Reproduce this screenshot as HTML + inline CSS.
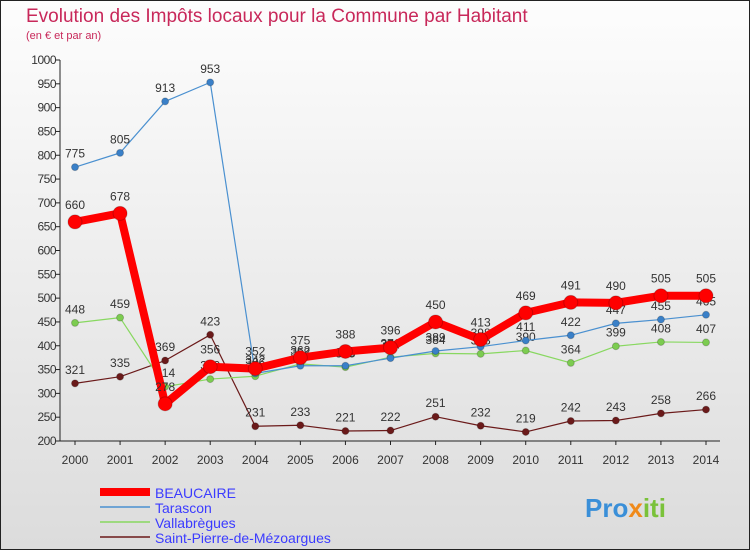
<!DOCTYPE html>
<html><head><meta charset="utf-8"><style>
body{margin:0;width:750px;height:550px;overflow:hidden;font-family:"Liberation Sans",sans-serif}
svg{display:block}
</style></head><body>
<svg width="750" height="550" xmlns="http://www.w3.org/2000/svg">
<defs><linearGradient id="bg" x1="0" y1="0" x2="0" y2="1"><stop offset="0" stop-color="#fdfdfd"/><stop offset="1" stop-color="#dcdcdc"/></linearGradient></defs>
<rect x="0.5" y="0.5" width="749" height="549" fill="url(#bg)" stroke="#222"/>
<text x="26" y="22" font-size="19" fill="#c8285a">Evolution des Impôts locaux pour la Commune par Habitant</text>
<text x="26" y="39" font-size="11" fill="#c8285a">(en € et par an)</text>
<g id="axes"></g><g id="series"></g>
<g font-size="14">
<line x1="100" y1="492" x2="150" y2="492" stroke="#f00" stroke-width="8"/>
<text x="155" y="498" fill="#3b3bff">BEAUCAIRE</text>
<line x1="100" y1="507" x2="150" y2="507" stroke="#4a90d0" stroke-width="1.5"/>
<text x="155" y="513" fill="#3b3bff">Tarascon</text>
<line x1="100" y1="522" x2="150" y2="522" stroke="#88d860" stroke-width="1.5"/>
<text x="155" y="528" fill="#3b3bff">Vallabrègues</text>
<line x1="100" y1="537" x2="150" y2="537" stroke="#6b1a1a" stroke-width="1.5"/>
<text x="155" y="543" fill="#3b3bff">Saint-Pierre-de-Mézoargues</text>
</g>
<text x="585" y="517" font-size="26" font-weight="bold" fill="#3a8fd8">Pro<tspan fill="#f08a1a">x</tspan><tspan fill="#7ac23a">iti</tspan></text>
</svg>
<script>
const years=[2000,2001,2002,2003,2004,2005,2006,2007,2008,2009,2010,2011,2012,2013,2014];
const yTicks=[200,250,300,350,400,450,500,550,600,650,700,750,800,850,900,950,1000];
const beaucaire=[660,678,278,356,352,375,388,396,450,413,469,491,490,505,505];
const tarascon=[775,805,913,953,342,358,358,374,389,398,411,422,447,455,465];
const vallabregues=[448,459,314,330,336,362,355,376,384,383,390,364,399,408,407];
const saintPierre=[321,335,369,423,231,233,221,222,251,232,219,242,243,258,266];
const NS="http://www.w3.org/2000/svg";
const xS=i=>75+i*(706-75)/14;
const yS=v=>441-(v-200)*(441-60)/800;
function mk(t,a,p){const e=document.createElementNS(NS,t);for(const k in a)e.setAttribute(k,a[k]);p.appendChild(e);return e;}
const ax=document.getElementById('axes');
const yl=mk('line',{x1:60,y1:60,x2:60,y2:441,stroke:'#222'},ax);


const xl=mk('line',{x1:60,y1:441,x2:720,y2:441,stroke:'#222'},ax);


yTicks.forEach(v=>{
 mk('line',{x1:56,y1:yS(v),x2:60,y2:yS(v),stroke:'#222'},ax);
 const t=mk('text',{x:56,y:yS(v)+4,'font-size':12,'text-anchor':'end',fill:'#333','letter-spacing':'-0.5'},ax);
 t.textContent=v;
 
 
});
years.forEach((y,i)=>{
 mk('line',{x1:xS(i),y1:441,x2:xS(i),y2:445,stroke:'#222'},ax);
 const t=mk('text',{x:xS(i),y:464,'font-size':12,'text-anchor':'middle',fill:'#333'},ax);
 t.textContent=y;
 
 
});
const sg=document.getElementById('series');
function draw(data,color,w,r,name,dot){
 const g=mk('g',{},sg);
 
 
 const pl=mk('polyline',{points:data.map((v,i)=>xS(i)+','+yS(v)).join(' '),fill:'none',stroke:color,'stroke-width':w,'stroke-linejoin':'round'},g);
 
 
 data.forEach((v,i)=>{
  const c=mk('circle',{cx:xS(i),cy:yS(v),r:r,fill:dot,stroke:'#0003'},g);
  
  
  const t=mk('text',{x:xS(i),y:yS(v)-(r+6),'font-size':12,'text-anchor':'middle',fill:'#333'},g);
  t.textContent=v;
  
  
 });
}
draw(saintPierre,'#6b1a1a',1.2,3.5,'saint-pierre','#6b1a1a');
draw(vallabregues,'#88d860',1.2,3.5,'vallabregues','#7ccc50');
draw(tarascon,'#4a90d0',1.2,3.5,'tarascon','#3a80c8');
draw(beaucaire,'#f00',8,7,'beaucaire','#f00');
</script>
</body></html>
